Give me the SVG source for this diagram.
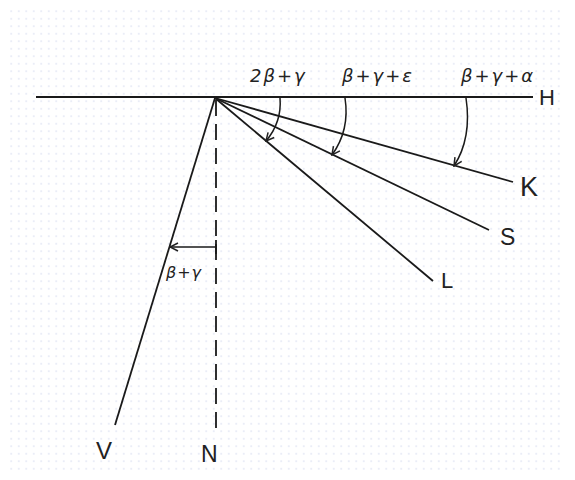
<svg xmlns="http://www.w3.org/2000/svg" width="575" height="480" viewBox="0 0 575 480">
<defs>
<pattern id="dots" width="7.5" height="7.5" patternUnits="userSpaceOnUse">
<circle cx="3.75" cy="3.75" r="0.7" fill="#c9d2ea"/>
</pattern>
<marker id="ah" viewBox="0 0 10 10" refX="9" refY="5" markerWidth="10" markerHeight="10" orient="auto-start-reverse" markerUnits="userSpaceOnUse">
<path d="M1,1 L9,5 L1,9" fill="none" stroke="#222" stroke-width="1.5"/>
</marker>
<style>
.ln{stroke:#1a1a1a;stroke-width:1.8;fill:none}
.arc{stroke:#1a1a1a;stroke-width:1.5;fill:none}
.lbl{font-family:"Liberation Sans",Arial,sans-serif;fill:#222}
.gk{font-family:"DejaVu Sans",sans-serif;font-style:italic;font-size:18px;letter-spacing:2px;fill:#222}
</style>
</defs>
<rect width="575" height="480" fill="#fff"/>
<rect x="10" y="10" width="555" height="460" fill="url(#dots)"/>
<g id="connectors">
<line class="ln" x1="36" y1="97" x2="533" y2="97"/>
<line class="ln" x1="215" y1="98" x2="115" y2="425"/>
<line class="ln" x1="216" y1="100" x2="216" y2="428" stroke-dasharray="16,8"/>
<line class="ln" x1="215" y1="98" x2="513" y2="182"/>
<line class="ln" x1="215" y1="98" x2="489" y2="230"/>
<line class="ln" x1="215" y1="98" x2="433" y2="281"/>
<path class="arc" d="M280,98 Q282,122 266,141" marker-end="url(#ah)"/>
<path class="arc" d="M345,98 Q350,130 332,155" marker-end="url(#ah)"/>
<path class="arc" d="M466,98 Q472,138 454,166" marker-end="url(#ah)"/>
<line class="arc" x1="216" y1="247" x2="170" y2="247" marker-end="url(#ah)"/>
<line class="ln" x1="216" y1="240" x2="216" y2="254"/>
</g>
<g id="H"><text class="lbl" x="539" y="105" style="font-size:22px">H</text></g>
<g id="K"><text class="lbl" x="520" y="196" style="font-size:27px">K</text></g>
<g id="S"><text class="lbl" x="500" y="245" style="font-size:23px">S</text></g>
<g id="L"><text class="lbl" x="441" y="288" style="font-size:22px">L</text></g>
<g id="V"><text class="lbl" x="96" y="459" style="font-size:24px">V</text></g>
<g id="N"><text class="lbl" x="201" y="462" style="font-size:23px">N</text></g>
<g id="angle1"><text class="gk" x="250" y="82">2β+γ</text></g>
<g id="angle2"><text class="gk" x="342" y="82">β+γ+ε</text></g>
<g id="angle3"><text class="gk" x="461" y="82">β+γ+α</text></g>
<g id="angle4"><text class="gk" x="166" y="278" style="font-size:16px;letter-spacing:1px">β+γ</text></g>
</svg>
